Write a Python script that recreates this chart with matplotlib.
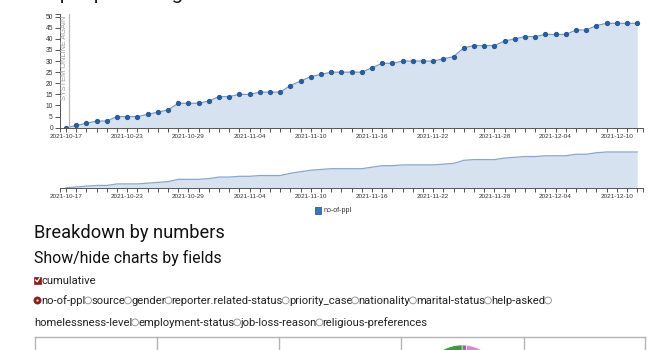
import numpy as np
import pandas as pd
import matplotlib
matplotlib.use('Agg')
import matplotlib.pyplot as plt
import matplotlib.dates as mdates
from matplotlib.patches import Rectangle, Circle
from matplotlib.lines import Line2D

# Cumulative number of people reported, one value per day
cases_cumulative = [0, 1, 2, 3, 3, 5, 5, 5, 6, 7, 8, 11, 11, 11, 12, 14, 14, 15, 15,
                    16, 16, 16, 19, 21, 23, 24, 25, 25, 25, 25, 27, 29, 29, 30, 30,
                    30, 30, 31, 32, 36, 37, 37, 37, 39, 40, 41, 41, 42, 42, 42, 44,
                    44, 46, 47, 47, 47, 47]
dates = pd.date_range('2021-10-17', periods=len(cases_cumulative), freq='D')
y_ticks = list(range(0, 51, 5))

series_name = 'no-of-ppl'
event_label = 'SYSTEM ONLINE AGAIN'
field_row1 = ['no-of-ppl', 'source', 'gender', 'reporter.related-status', 'priority_case',
              'nationality', 'marital-status', 'help-asked']
field_row2 = ['homelessness-level', 'employment-status', 'job-loss-reason',
              'religious-preferences']

# slices of the partly visible pie in the breakdown table
pie_shares = [2, 25, 73]
pie_colors = ['#8e6bbf', '#dd86d0', '#3f9a3a']

W, H = 665, 350
PT = 0.72  # points per pixel at dpi 100
TEXT_FONT = ['Roboto', 'DejaVu Sans']
AXIS_FONT = ['Liberation Sans', 'DejaVu Sans']

fig = plt.figure(figsize=(W / 100, H / 100), dpi=100)
fig.patch.set_facecolor('white')


def px_rect(l, t, r, b):
    return [l / W, 1 - b / H, (r - l) / W, (b - t) / H]


# full-figure overlay in pixel coordinates for the page text
page = fig.add_axes([0, 0, 1, 1], zorder=0)
page.set_xlim(0, W)
page.set_ylim(H, 0)
page.axis('off')
renderer = fig.canvas.get_renderer()


def text_width(t):
    return t.get_window_extent(renderer).width


def fit_text(x, y, s, width, **kw):
    t = page.text(x, y, s, **kw)
    t.set_fontsize(t.get_fontsize() * width / text_width(t))
    return t


xnum = mdates.date2num(dates)
x_lo, x_hi = xnum[0] - 0.59, xnum[-1] + 0.57

line_col = '#7f9cc2'
fill_col = '#d6e2ef'
axis_col = '#555555'


def style_time_axis(ax):
    ax.set_xlim(x_lo, x_hi)
    ax.set_xticks(xnum[::6])
    ax.set_xticklabels([d.strftime('%Y-%m-%d') for d in dates[::6]])
    ax.set_xticks(list(xnum) + [x_lo, x_hi], minor=True)
    ax.tick_params(axis='x', which='both', length=4 * PT, width=0.7, color=axis_col,
                   labelsize=6.4 * PT, labelcolor='#333333', pad=2)
    for lab in ax.get_xticklabels():
        lab.set_family(AXIS_FONT)
    for s in ['top', 'right']:
        ax.spines[s].set_visible(False)
    ax.spines['bottom'].set_color(axis_col)
    ax.spines['bottom'].set_linewidth(0.7)
    ax.set_facecolor('none')


# main cumulative chart
ax = fig.add_axes(px_rect(60, 14, 643, 127.7), zorder=2)
ax.fill_between(dates, cases_cumulative, 0, color=fill_col, lw=0)
ax.plot(dates, cases_cumulative, color=line_col, lw=0.9)
ax.plot(dates, cases_cumulative, 'o', ms=2.8, color='#2a5d9a', mec='#2a5d9a')
ax.set_ylim(0, 51.2)
ax.set_yticks(y_ticks)
ax.set_yticks([51.2], minor=True)
ax.tick_params(axis='y', which='both', length=5 * PT, width=0.7, color=axis_col,
               labelsize=6.6 * PT, labelcolor='#333333', pad=1.5)
for lab in ax.get_yticklabels():
    lab.set_family(AXIS_FONT)
ax.spines['left'].set_color(axis_col)
ax.spines['left'].set_linewidth(0.7)
style_time_axis(ax)

# marker for the day reporting resumed
event_x = xnum[0] + 0.3
ax.axvline(event_x, color='#b8b8b8', lw=0.9, zorder=4)
ax.text(event_x - 0.15, 50.6, event_label, rotation=90, ha='right', va='top',
        color='#9e9e9e', fontsize=7.4 * PT, family=AXIS_FONT, zorder=5)

# overview chart below
ax2 = fig.add_axes(px_rect(60, 149.7, 643, 187.7), zorder=2)
ax2.fill_between(dates, cases_cumulative, 0, color=fill_col, lw=0)
ax2.plot(dates, cases_cumulative, color='#8ba6c7', lw=0.9)
ax2.set_ylim(0, 50)
ax2.yaxis.set_visible(False)
ax2.spines['left'].set_visible(False)
style_time_axis(ax2)

# legend
page.add_patch(Rectangle((315, 207), 6, 6.5, facecolor='#3b76b5', edgecolor='#2a5d9a', lw=0.6))
page.text(324, 210.5, series_name, va='center', ha='left', fontsize=7.2 * PT,
          color='#333333', family=AXIS_FONT)

# page heading cut off at the top
fit_text(42, -0.8, '# people facing homelessness so far', 336, va='baseline',
         fontsize=16, color='#1a1a1a', family=TEXT_FONT)

fit_text(34, 238.5, 'Breakdown by numbers', 192, va='baseline', fontsize=14,
         color='#111111', family=TEXT_FONT)
fit_text(34, 262.5, 'Show/hide charts by fields', 186, va='baseline', fontsize=11,
         color='#111111', family=TEXT_FONT)

# field toggles: labels separated by radio circles
R_RADIO = 3.4
STEP_RADIO = 6.0


def label_widths(labels, size):
    ws = []
    for s in labels:
        t = page.text(0, 0, s, fontsize=size, family=TEXT_FONT)
        ws.append(text_width(t))
        t.remove()
    return ws


probe = 10.0
w2 = label_widths(field_row2, probe)
body_size = probe * (395 - STEP_RADIO * (len(field_row2) - 1)) / sum(w2)


def radio_row(x, y, labels, trailing):
    ws = label_widths(labels, body_size)
    for i, (s, w) in enumerate(zip(labels, ws)):
        page.text(x, y, s, va='baseline', fontsize=body_size, color='#222222',
                  family=TEXT_FONT)
        x += w
        if i < len(labels) - 1 or trailing:
            page.add_patch(Circle((x + R_RADIO - 0.6, y - 3.6), R_RADIO, facecolor='white',
                                  edgecolor='#8c8c8c', lw=0.6, zorder=3))
            x += STEP_RADIO


radio_row(41, 304, field_row1, True)
radio_row(34, 326, field_row2, False)
page.text(42, 283.5, 'cumulative', va='baseline', fontsize=body_size,
          color='#222222', family=TEXT_FONT)

red = '#8a1c1c'
page.add_patch(Rectangle((34, 276.5), 7, 7, facecolor=red, edgecolor=red, lw=0.5))
page.add_line(Line2D([35.6, 37.2, 39.6], [280.0, 281.8, 278.0], color='white', lw=0.9))
page.add_patch(Circle((37.5, 300.5), 3.6, facecolor=red, edgecolor=red, lw=0.5))
page.add_patch(Circle((37.5, 300.5), 1.2, facecolor='#e8d0d0', edgecolor='none'))

# breakdown table
grid_col = '#b5b5b5'
cols = [34.5, 156.5, 279, 401, 523.5, 645]
page.add_line(Line2D([cols[0], cols[-1]], [337, 337], color=grid_col, lw=1))
for cx in cols:
    page.add_line(Line2D([cx, cx], [337, H + 2], color=grid_col, lw=1))

pie_ax = fig.add_axes(px_rect(422, 345, 502, 425), zorder=3)
pie_ax.pie(pie_shares, colors=pie_colors, startangle=90, counterclock=False,
           wedgeprops=dict(linewidth=0.4, edgecolor='white'))
pie_ax.set_xlim(-1, 1)
pie_ax.set_ylim(-1, 1)
pie_ax.axis('off')

fig.savefig('out.png', dpi=100)
